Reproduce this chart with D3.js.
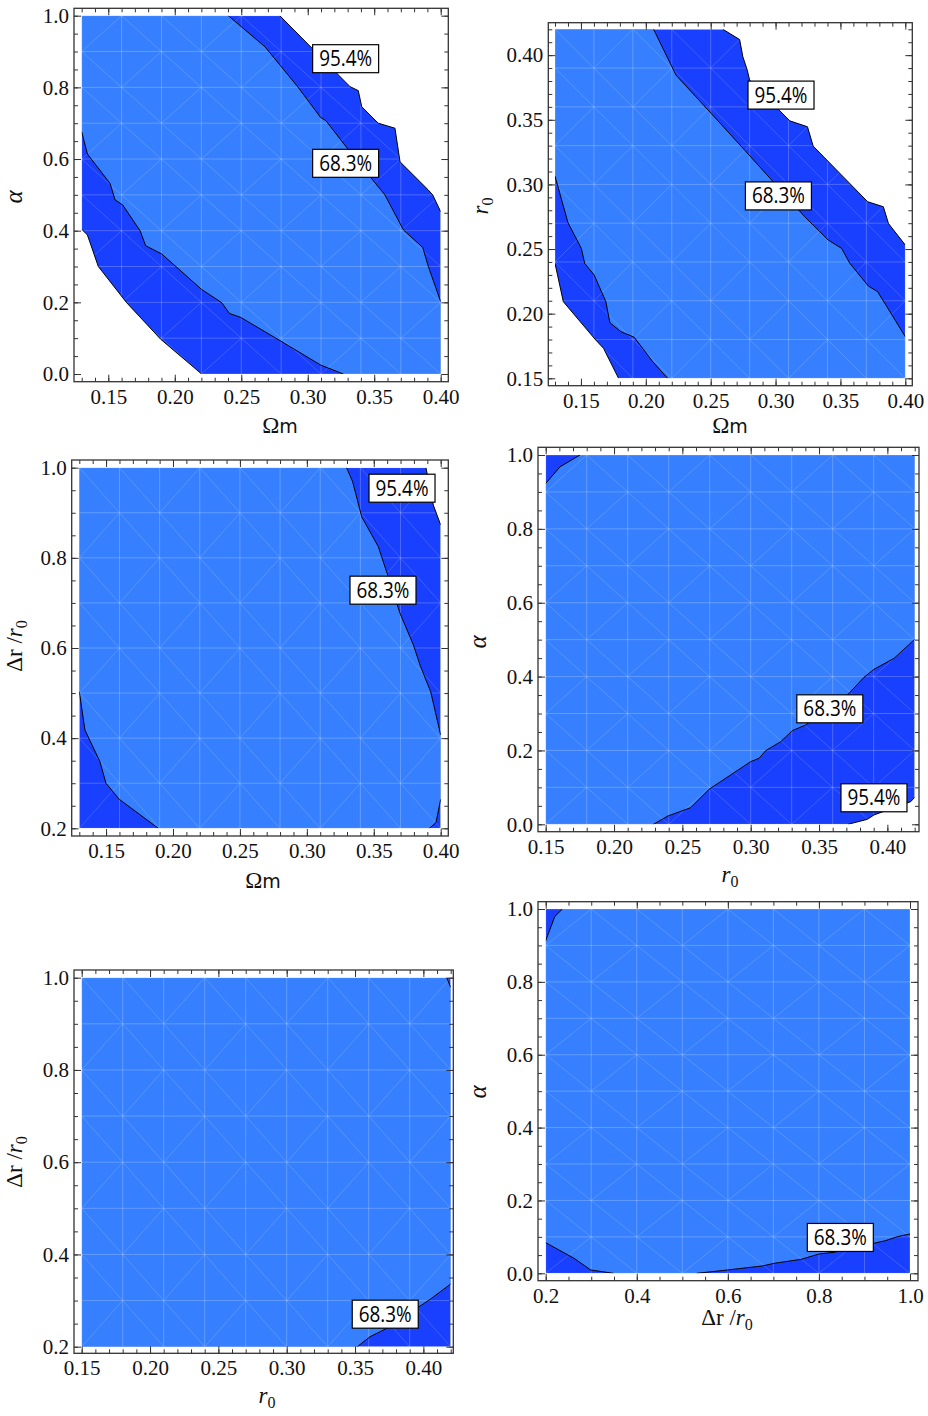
<!DOCTYPE html>
<html><head><meta charset="utf-8">
<script src="https://cdn.jsdelivr.net/npm/d3@7"></script>
<style>
body{margin:0;background:#fff}svg{display:block}
.tk text{font-family:'Liberation Serif','Times New Roman',serif !important;font-size:21px !important;fill:#111}
.axl{font-family:'Liberation Serif','Times New Roman',serif;fill:#111}
.clab{font-family:'Open Sans','DejaVu Sans',sans-serif;font-size:21px;fill:#000}
</style>
</head><body>
<script>
// ---------- DATA (contour lines, data coordinates) ----------
// Panel 1: Omega_m vs alpha
const p1Up95 = [[0.279,1.0],[0.3318,0.802],[0.338,0.791],[0.3406,0.746],[0.353,0.70],[0.3656,0.686],[0.3694,0.5925],[0.3907,0.5135],[0.394,0.4996],[0.40,0.453]];
const p1Up68 = [[0.2403,1.0],[0.2679,0.913],[0.2924,0.802],[0.3097,0.716],[0.3137,0.707],[0.3268,0.644],[0.3468,0.551],[0.358,0.50],[0.372,0.402],[0.3865,0.353],[0.3907,0.30],[0.40,0.202]];
const p1Lo95 = [[0.13,0.404],[0.1343,0.388],[0.1425,0.30],[0.1638,0.199],[0.1894,0.097],[0.2202,0.0]];
const p1Lo68 = [[0.13,0.676],[0.1343,0.614],[0.1513,0.532],[0.1551,0.486],[0.1608,0.472],[0.1739,0.40],[0.1781,0.358],[0.1902,0.335],[0.2202,0.236],[0.2353,0.199],[0.2411,0.169],[0.2496,0.158],[0.2792,0.093],[0.3097,0.025],[0.3268,0.0]];
// Panel 2: Omega_m vs r0
const p2Up95 = [[0.2594,0.42],[0.2723,0.4121],[0.2748,0.3987],[0.2782,0.3884],[0.2800,0.3807],[0.3109,0.3492],[0.3246,0.3446],[0.329,0.3296],[0.371,0.2866],[0.3831,0.2827],[0.387,0.2698],[0.40,0.2531]];
const p2Up68 = [[0.206,0.42],[0.2233,0.3845],[0.2504,0.3549],[0.2761,0.3266],[0.3225,0.275],[0.3406,0.257],[0.3509,0.2505],[0.3573,0.2389],[0.3715,0.2214],[0.3787,0.217],[0.40,0.1822]];
const p2Lo95 = [[0.13,0.2389],[0.1364,0.2093],[0.1614,0.1796],[0.1674,0.1732],[0.179,0.15]];
const p2Lo68 = [[0.13,0.3064],[0.14,0.2704],[0.1503,0.2505],[0.1529,0.2389],[0.1602,0.2299],[0.1692,0.2093],[0.1723,0.193],[0.1808,0.1861],[0.1911,0.1817],[0.2053,0.1629],[0.2169,0.15]];
// Panel 3: Omega_m vs dr/r0
const p3Up95 = [[0.389,1.0],[0.3945,0.917],[0.40,0.873]];
const p3Up68 = [[0.3297,1.0],[0.3342,0.969],[0.341,0.891],[0.3534,0.8248],[0.3596,0.769],[0.3696,0.677],[0.3796,0.6067],[0.385,0.5586],[0.3925,0.5031],[0.40,0.407]];
const p3LoR68 = [[0.40,0.2643],[0.3965,0.2126],[0.3915,0.2]];
const p3LoL68 = [[0.13,0.503],[0.1342,0.418],[0.1454,0.348],[0.1499,0.30],[0.1599,0.2643],[0.189,0.2]];
// Panel 4: r0 vs alpha
const p4TL68 = [[0.15,0.923],[0.1605,0.968],[0.1751,1.0]];
const p4BR68 = [[0.2288,0.0],[0.2395,0.0226],[0.2561,0.0451],[0.2695,0.0948],[0.30,0.1697],[0.3061,0.1787],[0.311,0.1995],[0.322,0.2238],[0.3305,0.2536],[0.3402,0.269],[0.372,0.3547],[0.3829,0.398],[0.3902,0.4197],[0.4049,0.4495],[0.42,0.5009]];
const p4BR95 = [[0.3712,0.0],[0.3854,0.0135],[0.3902,0.0253],[0.4171,0.0614],[0.42,0.0731]];
// Panel 5: r0 vs dr/r0
const p5TR68 = [[0.4171,1.0],[0.42,0.979]];
const p5BR68 = [[0.3517,0.2],[0.361,0.2217],[0.3732,0.2397],[0.4049,0.3026],[0.42,0.3359]];
// Panel 6: dr/r0 vs alpha
const p6TL68 = [[0.2,0.913],[0.2198,0.979],[0.2366,1.0]];
const p6BL68 = [[0.2,0.0842],[0.2622,0.0412],[0.2988,0.0091],[0.3486,0.0]];
const p6BR68 = [[0.5316,0.0],[0.5989,0.0091],[0.6758,0.0201],[0.7014,0.0274],[0.7614,0.0384],[0.8002,0.0531],[0.8331,0.0576],[0.9466,0.0897],[0.9722,0.1006],[1.0,0.108]];

// Contour label anchors
const p1Labels = [["95.4%",0.3285,0.880],["68.3%",0.3285,0.588]];
const p2Labels = [["95.4%",0.3042,0.3691],["68.3%",0.3022,0.2911]];
const p3Labels = [["95.4%",0.3711,0.9545],["68.3%",0.3569,0.7283]];
const p4Labels = [["68.3%",0.3579,0.3127],["95.4%",0.3902,0.0718]];
const p5Labels = [["68.3%",0.3721,0.2705]];
const p6Labels = [["68.3%",0.847,0.0984]];

// Tick labels
const omTicks = [0.15,0.20,0.25,0.30,0.35,0.40];
const r0Ticks = [0.15,0.20,0.25,0.30,0.35,0.40];
const alphaTicks = [0.0,0.2,0.4,0.6,0.8,1.0];
const drTicks = [0.2,0.4,0.6,0.8,1.0];

// ---------- RENDER ----------
const LIGHT = "#3680ff", DARK = "#1a40ff";
const svg = d3.select("body").append("svg").attr("width",928).attr("height",1416);

const rev = a => a.slice().reverse();

const panels = [
  {id:1, xd:[0.13,0.40], yd:[0,1], frame:[74,448.3,8.3,381.7], px:[81.7,440.7], py:[374,15.7],
   dark:[p1Up95,"BR",rev(p1Lo95),"TL"], light:[p1Up68,"BR",rev(p1Lo68),"TL"],
   lines:[p1Up95,p1Up68,p1Lo95,p1Lo68], labels:p1Labels,
   xt:omTicks, xf:".2f", xminor:0.01, yt:alphaTicks, yf:".1f", yminor:0.05,
   gx:0.03, gy:0.1, xlab:"om", xlabPos:[280,433], ylab:"alpha", ylabPos:[22,190]},
  {id:2, xd:[0.13,0.40], yd:[0.15,0.42], frame:[548.3,912.3,22.7,385.7], px:[555,905.3], py:[378.3,29.3],
   dark:[p2Up95,"BR",rev(p2Lo95),"TL"], light:[p2Up68,"BR",rev(p2Lo68),"TL"],
   lines:[p2Up95,p2Up68,p2Lo95,p2Lo68], labels:p2Labels,
   xt:omTicks, xf:".2f", xminor:0.01, yt:r0Ticks, yf:".2f", yminor:0.01,
   gx:0.03, gy:0.03, xlab:"om", xlabPos:[730,433], ylab:"r0", ylabPos:[488,199]},
  {id:3, xd:[0.13,0.40], yd:[0.2,1], frame:[71.7,448.3,460,836], px:[79.3,440.7], py:[828.3,467.7],
   dark:[p3Up95,"BR","BL","TL"], light:[p3Up68,p3LoR68,rev(p3LoL68),"TL"],
   lines:[p3Up95,p3Up68,p3LoR68,p3LoL68], labels:p3Labels,
   xt:omTicks, xf:".2f", xminor:0.01, yt:drTicks, yf:".1f", yminor:0.05,
   gx:0.03, gy:0.1, xlab:"om", xlabPos:[263,888], ylab:"dr", ylabPos:[22,639]},
  {id:4, xd:[0.15,0.42], yd:[0,1], frame:[538,919,447.3,831.7], px:[545.7,914.7], py:[824.3,455],
   dark:["TL","TR",rev(p4BR95),"BL"], light:[p4TL68,"TR",rev(p4BR68),"BL"],
   lines:[p4TL68,p4BR68,p4BR95], labels:p4Labels,
   xt:r0Ticks, xf:".2f", xminor:0.01, yt:alphaTicks, yf:".1f", yminor:0.05,
   gx:0.03, gy:0.1, xlab:"r0", xlabPos:[730,882], ylab:"alpha", ylabPos:[486,635]},
  {id:5, xd:[0.15,0.42], yd:[0.2,1], frame:[74,453.3,970,1353.3], px:[81.7,450.7], py:[1346.7,977.7],
   dark:["TL","TR","BR","BL"], light:["BL","TL",p5TR68,rev(p5BR68)],
   lines:[p5TR68,p5BR68], labels:p5Labels,
   xt:r0Ticks, xf:".2f", xminor:0.01, yt:drTicks, yf:".1f", yminor:0.05,
   gx:0.03, gy:0.1, xlab:"r0", xlabPos:[267,1403], ylab:"dr", ylabPos:[22,1155]},
  {id:6, xd:[0.2,1.0], yd:[0,1], frame:[538,918,901.7,1280.7], px:[545.7,910], py:[1273.3,909],
   dark:["TL","TR","BR","BL"], light:[p6TL68,"TR",rev(p6BR68),rev(p6BL68)],
   lines:[p6TL68,p6BL68,p6BR68], labels:p6Labels,
   xt:drTicks, xf:".1f", xminor:0.05, yt:alphaTicks, yf:".1f", yminor:0.05,
   gx:0.1, gy:0.1, xlab:"dr", xlabPos:[727,1325], ylab:"alpha", ylabPos:[486,1085]}
];

function addLabel(sel, kind, x, y, rotate){
  const t = sel.append("text").attr("class","axl")
    .attr("transform", `translate(${x},${y})` + (rotate?" rotate(-90)":""))
    .attr("text-anchor","middle").style("font-size","23px");
  if(kind==="om"){
    t.append("tspan").text("Ω");
    t.append("tspan").style("font-family","'DejaVu Sans',sans-serif").style("font-size","19px").text("m");
  } else if(kind==="alpha"){
    t.append("tspan").style("font-style","italic").style("font-size","25px").text("α");
  } else if(kind==="r0"){
    t.append("tspan").style("font-style","italic").text("r");
    t.append("tspan").style("font-size","16px").attr("dy",5).text("0");
  } else if(kind==="dr"){
    t.append("tspan").text("Δr /");
    t.append("tspan").style("font-style","italic").text("r");
    t.append("tspan").style("font-size","16px").attr("dy",5).text("0");
  }
}

panels.forEach(p=>{
  const x = d3.scaleLinear().domain(p.xd).range(p.px);
  const y = d3.scaleLinear().domain(p.yd).range(p.py);
  const g = svg.append("g");
  const cid = "clip"+p.id;
  g.append("clipPath").attr("id",cid).append("rect")
    .attr("x",p.px[0]).attr("y",p.py[1]).attr("width",p.px[1]-p.px[0]).attr("height",p.py[0]-p.py[1]);
  const corner = c => ({TL:[p.xd[0],p.yd[1]],TR:[p.xd[1],p.yd[1]],BL:[p.xd[0],p.yd[0]],BR:[p.xd[1],p.yd[0]]})[c];
  const build = parts => parts.flatMap(q => typeof q==="string" ? [corner(q)] : q);
  const area = d3.line().x(d=>x(d[0])).y(d=>y(d[1]));
  const plot = g.append("g").attr("clip-path",`url(#${cid})`);
  plot.append("path").attr("d", area(build(p.dark))+"Z").attr("fill",DARK);
  plot.append("path").attr("d", area(build(p.light))+"Z").attr("fill",LIGHT);
  // faint mesh of the sampling grid
  const mesh = plot.append("g").attr("stroke","#fff").attr("fill","none");
  const gxs = d3.range(p.xd[0], p.xd[1]+p.gx/2, p.gx);
  const gys = d3.range(p.yd[0], p.yd[1]+p.gy/2, p.gy);
  gxs.forEach(v=>mesh.append("line").attr("x1",x(v)).attr("x2",x(v)).attr("y1",p.py[0]).attr("y2",p.py[1]).attr("stroke-opacity",0.22));
  gys.forEach(v=>mesh.append("line").attr("y1",y(v)).attr("y2",y(v)).attr("x1",p.px[0]).attr("x2",p.px[1]).attr("stroke-opacity",0.22));
  for(let i=0;i<gxs.length-1;i++) for(let j=0;j<gys.length-1;j++){
    const down = ((i+j)%3)!==0;
    if(down) mesh.append("line").attr("x1",x(gxs[i])).attr("y1",y(gys[j+1])).attr("x2",x(gxs[i+1])).attr("y2",y(gys[j])).attr("stroke-opacity",0.16);
    else mesh.append("line").attr("x1",x(gxs[i])).attr("y1",y(gys[j])).attr("x2",x(gxs[i+1])).attr("y2",y(gys[j+1])).attr("stroke-opacity",0.16);
  }
  // contour lines
  p.lines.forEach(l=>plot.append("path").attr("d",area(l)).attr("fill","none").attr("stroke","#000").attr("stroke-width",1));
  // frame
  const [fl,fr,ft,fb] = p.frame;
  g.append("rect").attr("x",fl).attr("y",ft).attr("width",fr-fl).attr("height",fb-ft)
    .attr("fill","none").attr("stroke","#333").attr("stroke-width",1.3);
  // ticks
  const minorX = d3.range(0,200).map(k=>+(p.xd[0]+k*p.xminor).toFixed(4)).filter(v=>v<=p.xd[1]+1e-9);
  const minorY = d3.range(0,200).map(k=>+(p.yd[0]+k*p.yminor).toFixed(4)).filter(v=>v<=p.yd[1]+1e-9);
  const style = a => a.call(s=>s.select(".domain").remove()).call(s=>s.selectAll("line").attr("stroke","#333").attr("stroke-width",1));
  g.append("g").attr("transform",`translate(0,${fb})`).call(d3.axisBottom(x).tickValues(minorX).tickSize(-4).tickFormat("")).call(style);
  g.append("g").attr("class","tk").attr("transform",`translate(0,${fb})`).call(d3.axisBottom(x).tickValues(p.xt).tickSize(-7).tickPadding(7).tickFormat(d3.format(p.xf))).call(style);
  g.append("g").attr("transform",`translate(0,${ft})`).call(d3.axisTop(x).tickValues(minorX).tickSize(-4).tickFormat("")).call(style);
  g.append("g").attr("transform",`translate(0,${ft})`).call(d3.axisTop(x).tickValues(p.xt).tickSize(-7).tickFormat("")).call(style);
  g.append("g").attr("transform",`translate(${fl},0)`).call(d3.axisLeft(y).tickValues(minorY).tickSize(-4).tickFormat("")).call(style);
  g.append("g").attr("class","tk").attr("transform",`translate(${fl},0)`).call(d3.axisLeft(y).tickValues(p.yt).tickSize(-7).tickPadding(5).tickFormat(d3.format(p.yf))).call(style);
  g.append("g").attr("transform",`translate(${fr},0)`).call(d3.axisRight(y).tickValues(minorY).tickSize(-4).tickFormat("")).call(style);
  g.append("g").attr("transform",`translate(${fr},0)`).call(d3.axisRight(y).tickValues(p.yt).tickSize(-7).tickFormat("")).call(style);
  // contour labels
  p.labels.forEach(([t,lx,ly])=>{
    const cx=x(lx), cy=y(ly);
    g.append("rect").attr("x",cx-33).attr("y",cy-14).attr("width",66).attr("height",28)
      .attr("fill","#fff").attr("stroke","#000").attr("stroke-width",1.2);
    g.append("text").attr("class","clab").attr("x",cx).attr("y",cy+7.5).attr("text-anchor","middle")
      .attr("textLength",53).attr("lengthAdjust","spacingAndGlyphs").text(t);
  });
  addLabel(svg, p.xlab, p.xlabPos[0], p.xlabPos[1], false);
  addLabel(svg, p.ylab, p.ylabPos[0], p.ylabPos[1]+7, true);
});
</script>
</body></html>
